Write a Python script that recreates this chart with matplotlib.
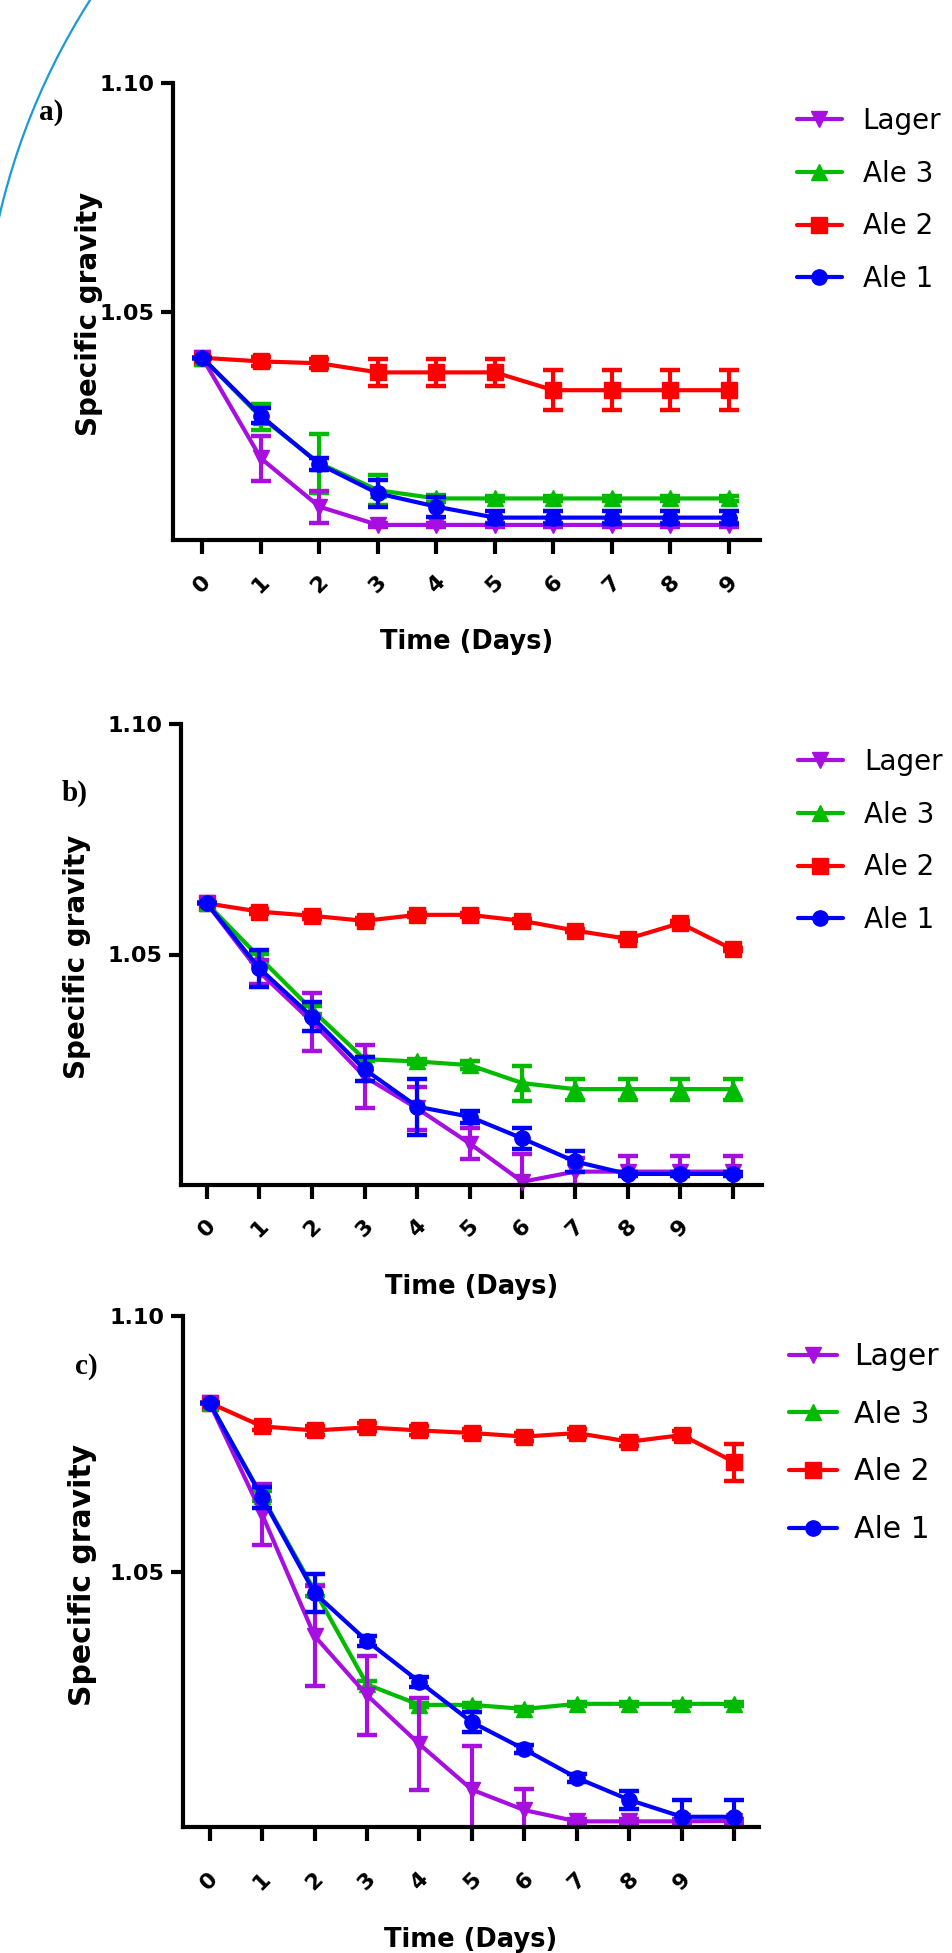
"""Specific gravity over fermentation time for three worts (a, b, c)."""

import matplotlib

matplotlib.use("Agg")
import matplotlib.pyplot as plt
from matplotlib.patches import Arc

W, H = 953, 1953

SERIES = ["Lager", "Ale 3", "Ale 2", "Ale 1"]
COLORS = {"Lager": "#a60fe0", "Ale 3": "#00bb00", "Ale 2": "#ff0000", "Ale 1": "#0000ff"}
MARKERS = {"Lager": "v", "Ale 3": "^", "Ale 2": "s", "Ale 1": "o"}
DRAW_ORDER = ["Ale 2", "Ale 3", "Lager", "Ale 1"]

# ---- panel a ----
days_a = [0, 1, 2, 3, 4, 5, 6, 7, 8, 9]
xticklabels_a = ["0", "1", "2", "3", "4", "5", "6", "7", "8", "9"]
lager_a = [1.0399, 1.0179, 1.0073, 1.0033, 1.0033, 1.0033, 1.0033, 1.0033, 1.0033, 1.0033]
lager_a_err = [0, 0.0049, 0.0035, 0.0005, 0.0005, 0.0005, 0.0005, 0.0005, 0.0005, 0.0005]
ale3_a = [1.0399, 1.0269, 1.0168, 1.0109, 1.0091, 1.0091, 1.0091, 1.0091, 1.0091, 1.0091]
ale3_a_err = [0, 0.0029, 0.0064, 0.0033, 0.0007, 0.0005, 0.0005, 0.0005, 0.0005, 0.0005]
ale2_a = [1.0399, 1.0391, 1.0387, 1.0367, 1.0367, 1.0367, 1.0328, 1.0328, 1.0328, 1.0328]
ale2_a_err = [0, 0.0010, 0.0010, 0.0029, 0.0029, 0.0029, 0.0044, 0.0044, 0.0044, 0.0044]
ale1_a = [1.0399, 1.0272, 1.0166, 1.0102, 1.0073, 1.0049, 1.0049, 1.0049, 1.0049, 1.0049]
ale1_a_err = [0, 0.0016, 0.0013, 0.0030, 0.0022, 0.0014, 0.0014, 0.0014, 0.0014, 0.0014]

# ---- panel b ----
days_b = [0, 1, 2, 3, 4, 5, 6, 7, 8, 9, 10]
xticklabels_b = ["0", "1", "2", "3", "4", "5", "6", "7", "8", "9", ""]
lager_b = [1.0611, 1.0462, 1.0354, 1.0235, 1.0166, 1.0090, 1.0007, 1.0029, 1.0029, 1.0029, 1.0029]
lager_b_err = [0, 0.0025, 0.0063, 0.0068, 0.0047, 0.0034, 0.0060, 0.0029, 0.0034, 0.0034, 0.0034]
ale3_b = [1.0611, 1.0494, 1.0380, 1.0273, 1.0268, 1.0260, 1.0221, 1.0208, 1.0208, 1.0208, 1.0208]
ale3_b_err = [0, 0.0008, 0.0008, 0.0005, 0.0006, 0.0008, 0.0038, 0.0023, 0.0023, 0.0023, 0.0023]
ale2_b = [1.0611, 1.0593, 1.0584, 1.0573, 1.0586, 1.0586, 1.0573, 1.0552, 1.0534, 1.0568, 1.0511]
ale2_b_err = [0, 0.0006, 0.0006, 0.0006, 0.0004, 0.0004, 0.0004, 0.0004, 0.0004, 0.0004, 0.0004]
ale1_b = [1.0611, 1.0470, 1.0365, 1.0251, 1.0170, 1.0148, 1.0101, 1.0051, 1.0024, 1.0024, 1.0024]
ale1_b_err = [0, 0.0040, 0.0031, 0.0026, 0.0061, 0.0013, 0.0023, 0.0023, 0.0005, 0.0005, 0.0005]

# ---- panel c ----
days_c = [0, 1, 2, 3, 4, 5, 6, 7, 8, 9, 10]
xticklabels_c = ["0", "1", "2", "3", "4", "5", "6", "7", "8", "9", ""]
lager_c = [1.0830, 1.0612, 1.0374, 1.0258, 1.0162, 1.0073, 1.0033, 1.0011, 1.0011, 1.0011, 1.0012]
lager_c_err = [0, 0.0060, 0.0098, 0.0077, 0.0090, 0.0086, 0.0041, 0.0004, 0.0004, 0.0004, 0.0004]
ale3_c = [1.0830, 1.0647, 1.0463, 1.0279, 1.0239, 1.0239, 1.0231, 1.0241, 1.0241, 1.0241, 1.0241]
ale3_c_err = [0, 0.0010, 0.0010, 0.0007, 0.0004, 0.0004, 0.0004, 0.0004, 0.0004, 0.0004, 0.0004]
ale2_c = [1.0830, 1.0784, 1.0776, 1.0782, 1.0776, 1.0771, 1.0764, 1.0771, 1.0754, 1.0767, 1.0714]
ale2_c_err = [0, 0.0008, 0.0008, 0.0008, 0.0008, 0.0008, 0.0008, 0.0008, 0.0008, 0.0008, 0.0036]
ale1_c = [1.0830, 1.0645, 1.0458, 1.0364, 1.0284, 1.0205, 1.0152, 1.0096, 1.0053, 1.0020, 1.0020]
ale1_c_err = [0, 0.0020, 0.0037, 0.0010, 0.0010, 0.0020, 0.0008, 0.0008, 0.0018, 0.0033, 0.0033]

yticks = [1.05, 1.10]
yticklabels = ["1.05", "1.10"]


def px_rect(left, top, right, bottom):
    return [left / W, 1 - bottom / H, (right - left) / W, (bottom - top) / H]


def draw_panel(fig, layout, days, xticklabels, values, errors):
    ax = fig.add_axes(px_rect(*layout["box"]))
    lines = {}
    for name in DRAW_ORDER:
        color = COLORS[name]
        ax.errorbar(days, values[name], yerr=errors[name], fmt="none", ecolor=color,
                    elinewidth=3, capsize=7, capthick=3.2)
        (line,) = ax.plot(days, values[name], color=color, lw=3, marker=MARKERS[name],
                          ms=11, solid_capstyle="round", solid_joinstyle="round",
                          clip_on=False, label=name)
        lines[name] = line

    ax.set_xlim(*layout["xlim"])
    ax.set_ylim(1.0, 1.10)
    ax.set_xticks(days)
    ax.set_xticklabels(xticklabels, rotation=45, ha="center", fontsize=16, fontweight="bold")
    ax.set_yticks(yticks)
    ax.set_yticklabels(yticklabels, fontsize=16, fontweight="bold")
    ax.spines[["top", "right"]].set_visible(False)
    for side in ["left", "bottom"]:
        ax.spines[side].set_linewidth(3)
    ax.tick_params(axis="x", length=10, width=3, pad=layout["xpad"])
    ax.tick_params(axis="y", length=9, width=3, pad=4)

    ax.set_xlabel("Time (Days)", fontsize=18.5, fontweight="bold")
    ax.xaxis.set_label_coords(0.5, layout["xlabel_y"])
    ax.set_ylabel("Specific gravity", fontsize=layout["ylabel_size"], fontweight="bold")
    ax.yaxis.set_label_coords(layout["ylabel_xy"][0], layout["ylabel_xy"][1])

    lx, ly = layout["legend_at"]
    fig.legend([lines[n] for n in SERIES], SERIES, loc="upper left",
               bbox_to_anchor=(lx / W, 1 - ly / H), bbox_transform=fig.transFigure,
               frameon=False, fontsize=layout["legend_size"],
               handlelength=layout["legend_handle"], handletextpad=layout["legend_pad"],
               labelspacing=layout["legend_space"], borderpad=0, borderaxespad=0,
               numpoints=1)

    tx, ty = layout["tag_at"]
    fig.text(tx / W, 1 - ty / H, layout["tag"], ha="center", va="center",
             fontsize=21, fontweight="bold", family="Liberation Serif")
    return ax


if __name__ == "__main__":
    fig = plt.figure(figsize=(W / 100, H / 100), dpi=100)

    # decorative blue arc in the upper left corner
    fig.add_artist(Arc((672.6 / W, 1 - 371.7 / H), 2 * 691 / W, 2 * 691 / H,
                       theta1=95, theta2=185, transform=fig.transFigure,
                       color="#1b9ad8", lw=1.6))

    layout_a = dict(box=(172.7, 83.3, 760, 540), xlim=(-0.506, 9.53), xpad=13,
                    xlabel_y=-0.195, ylabel_xy=(-0.119, 0.495), ylabel_size=20,
                    legend_at=(796.7, 107), legend_size=20, legend_handle=1.62,
                    legend_pad=0.75, legend_space=0.89, tag="a)", tag_at=(51, 112))
    layout_b = dict(box=(180.7, 724, 761.7, 1185), xlim=(-0.495, 10.55), xpad=12,
                    xlabel_y=-0.193, ylabel_xy=(-0.154, 0.495), ylabel_size=20,
                    legend_at=(798, 748), legend_size=20, legend_handle=1.62,
                    legend_pad=0.75, legend_space=0.89, tag="b)", tag_at=(75, 793))
    layout_c = dict(box=(182.8, 1316, 759, 1827), xlim=(-0.51, 10.47), xpad=20,
                    xlabel_y=-0.196, ylabel_xy=(-0.149, 0.493), ylabel_size=21.5,
                    legend_at=(789, 1342), legend_size=21.5, legend_handle=1.6,
                    legend_pad=0.57, legend_space=0.96, tag="c)", tag_at=(86, 1366))

    draw_panel(fig, layout_a, days_a, xticklabels_a,
               {"Lager": lager_a, "Ale 3": ale3_a, "Ale 2": ale2_a, "Ale 1": ale1_a},
               {"Lager": lager_a_err, "Ale 3": ale3_a_err, "Ale 2": ale2_a_err, "Ale 1": ale1_a_err})
    draw_panel(fig, layout_b, days_b, xticklabels_b,
               {"Lager": lager_b, "Ale 3": ale3_b, "Ale 2": ale2_b, "Ale 1": ale1_b},
               {"Lager": lager_b_err, "Ale 3": ale3_b_err, "Ale 2": ale2_b_err, "Ale 1": ale1_b_err})
    draw_panel(fig, layout_c, days_c, xticklabels_c,
               {"Lager": lager_c, "Ale 3": ale3_c, "Ale 2": ale2_c, "Ale 1": ale1_c},
               {"Lager": lager_c_err, "Ale 3": ale3_c_err, "Ale 2": ale2_c_err, "Ale 1": ale1_c_err})

    fig.savefig("out.png", dpi=100)
